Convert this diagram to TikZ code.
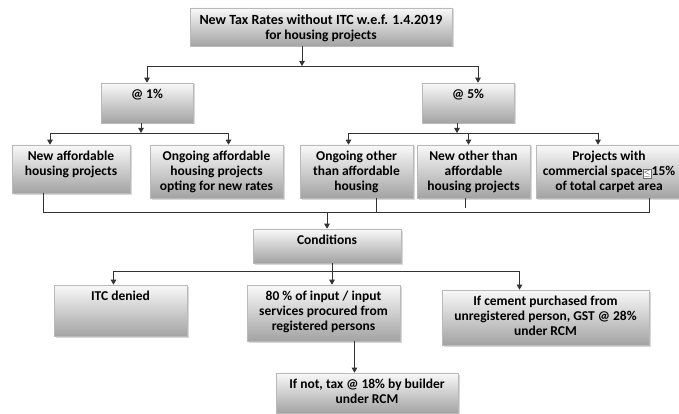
\documentclass[tikz,border=0pt]{standalone}
\usepackage{fontspec}
\setmainfont{Carlito}
\usetikzlibrary{fit,shadows,arrows.meta}
\newcommand\mybox[6]{%
  \node[box, fit={(#2,#3)(#4,#5)}] (#1) {};
  \node[lbl] (#1t) at ([yshift=-6.5pt]#1.north) {#6};}
\begin{document}
\begin{tikzpicture}[x=1pt,y=-1pt,
  box/.style={draw=gray!55, line width=0.6pt, top color=gray!5, bottom color=gray!72, inner sep=0pt,
    drop shadow={opacity=0.3,shadow xshift=1.5pt,shadow yshift=-1.5pt}},
  lbl/.style={anchor=north, align=center, font=\bfseries\fontsize{13.5}{15}\selectfont, inner sep=0pt},
  ln/.style={draw=black!80, line width=0.8pt},
  arr/.style={ln, -{Triangle[length=5pt,width=5.5pt]}}]
\useasboundingbox (0,0) rectangle (679,414);
\fill[white] (0,0) rectangle (679,414);

\mybox{top}{190}{8}{452}{46}{\fontsize{14}{18}\selectfont New Tax Rates without ITC w.e.f. 1.4.2019\\for housing projects}
\mybox{one}{101}{83}{193}{123}{@ 1\%}
\mybox{five}{422}{83}{514}{123}{@ 5\%}
\mybox{A}{12}{145}{130}{193}{New affordable\\housing projects}
\mybox{B}{150}{145}{283}{198}{Ongoing affordable\\housing projects\\opting for new rates}
\mybox{C}{300}{145}{413}{198}{Ongoing other\\than affordable\\housing}
\mybox{D}{417}{145}{530}{198}{New other than\\affordable\\housing projects}
\mybox{E}{536}{145}{682}{198}{Projects with\\commercial space{\setlength\fboxsep{0.8pt}\setlength\fboxrule{0.4pt}\fcolorbox{black!60}{white}{\footnotesize$\leq$}}15\%\\of total carpet area}
\mybox{cond}{253}{229}{401}{263}{Conditions}
\mybox{F}{54}{285}{187}{336}{ITC denied}
\mybox{G}{247}{285}{400}{341}{80 \% of input / input\\services procured from\\registered persons}
\mybox{H}{442}{290}{649}{345}{If cement purchased from\\unregistered person, GST @ 28\%\\under RCM}
\mybox{I}{276}{373}{458}{413}{If not, tax @ 18\% by builder\\under RCM}

% top level
\coordinate (j0) at (302,66);
\draw[arr] (top.south -| j0) -- (j0);
\draw[arr] (j0) -| (one.north);
\draw[arr] (j0) -| ([xshift=10pt]five.north);
% @1%
\coordinate (j1) at (141,133);
\draw[arr] (one.south -| j1) -- (j1);
\draw[arr] (j1) -| ([xshift=-21pt]A.north);
\draw[arr] (j1) -| ([xshift=12pt]B.north);
% @5%
\coordinate (j2) at (457,133);
\draw[arr] (five.south -| j2) -- (j2);
\draw[arr] (j2) -| ([xshift=-8pt]C.north);
\draw[arr] (j2) -| ([xshift=-5pt]D.north);
\draw[arr] (j2) -| ([xshift=-11pt]E.north);
% merge into conditions
\coordinate (jL) at (43,212);
\coordinate (jR) at (649,212);
\coordinate (j3) at (327,212);
\draw[ln] ([xshift=-28pt]A.south) -- (jL) -- (jR) -- ([xshift=40pt]E.south);
\draw[ln] ([xshift=20pt]C.south) -- ([xshift=20pt]C.south |- j3);
\draw[ln, line width=0.5pt] ([xshift=-8pt]D.south) -- ++(0,10);
\draw[arr] (j3) -- (cond.north -| j3);
% conditions
\coordinate (j4) at (332,271);
\draw[ln] (cond.south -| j4) -- (j4);
\draw[arr] (j4) -| ([xshift=-7pt]F.north);
\draw[arr] (j4) -- (G.north -| j4);
\draw[arr] (j4) -| ([xshift=-26pt]H.north);
\draw[arr] ([xshift=31pt]G.south) -- ([xshift=31pt]G.south |- I.north);
\end{tikzpicture}
\end{document}
